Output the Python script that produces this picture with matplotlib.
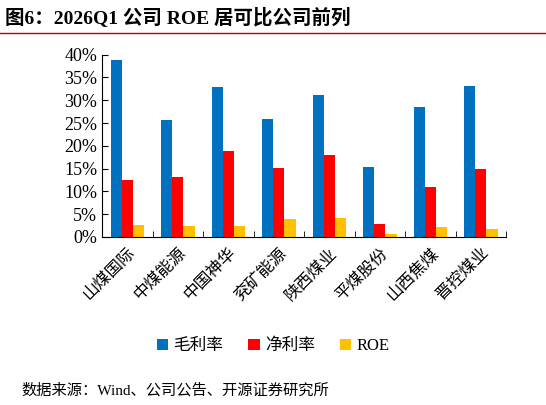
import numpy as np
import matplotlib.pyplot as plt
from matplotlib.ticker import PercentFormatter
from matplotlib.lines import Line2D

plt.rcParams['font.family'] = ['Liberation Serif', 'Noto Sans CJK SC', 'DejaVu Sans']

# data
companies = ["山煤国际", "中煤能源", "中国神华", "兖矿能源", "陕西煤业", "平煤股份", "山西焦煤", "晋控煤业"]
gross = [38.9, 25.6, 32.9, 25.9, 31.1, 15.3, 28.6, 33.1]
net = [12.5, 13.1, 18.9, 15.2, 18.0, 2.8, 11.0, 15.0]
roe = [2.6, 2.3, 2.4, 3.9, 4.2, 0.6, 2.2, 1.7]

fig = plt.figure(figsize=(5.46, 4.05), dpi=100)
ax = fig.add_axes([0.187, 0.415, 0.74, 0.45])

x = np.arange(len(companies))
w = 0.22
ax.bar(x - w, gross, w, color="#0070C0", label="毛利率")
ax.bar(x, net, w, color="#FF0000", label="净利率")
ax.bar(x + w, roe, w, color="#FFC000", label="ROE")

ax.set_xlim(-0.5, len(companies) - 0.5)
ax.set_ylim(0, 40)
ax.set_yticks(np.arange(0, 41, 5))
ax.yaxis.set_major_formatter(PercentFormatter(decimals=0))
ax.set_xticks(np.arange(-0.5, len(companies), 1), minor=True)
ax.set_xticks(x)
ax.set_xticklabels(companies, rotation=45, ha="right", rotation_mode="anchor", fontsize=12)
ax.tick_params(axis="x", which="major", length=0, pad=6)
ax.tick_params(axis="x", which="minor", length=4, direction="in")
ax.tick_params(axis="y", labelsize=13, length=4, direction="in")
for s in ["top", "right"]:
    ax.spines[s].set_visible(False)

fig.legend(loc="center", bbox_to_anchor=(0.5, 0.145), ncol=3, frameon=False,
           fontsize=12, handlelength=0.7, handleheight=0.7, columnspacing=1.5, handletextpad=0.3)

fig.text(0.01, 0.955, "图6：2026Q1 公司 ROE 居可比公司前列", fontsize=14, fontweight="bold",
         va="center", color="#000000")
fig.add_artist(Line2D([0.0, 1.0], [0.918, 0.918], color="#C00000", lw=1))
fig.text(0.04, 0.035, "数据来源：Wind、公司公告、开源证券研究所", fontsize=11, va="center")

fig.savefig("out.png", dpi=100)
